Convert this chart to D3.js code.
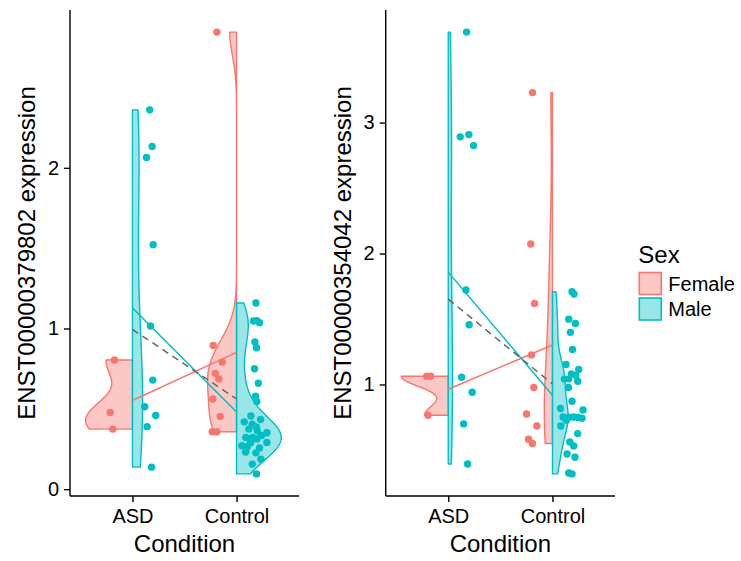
<!DOCTYPE html>
<html><head><meta charset="utf-8">
<script src="https://cdn.jsdelivr.net/npm/d3@7"></script>
<style>body{margin:0;background:#fff} text{font-family:"Liberation Sans",Arial,Helvetica,sans-serif}</style>
</head><body><svg id="chart" width="741" height="561"></svg>
<script>
// ---------------- data ----------------
const categories = ["ASD", "Control"];
const sexes = ["Female", "Male"];
const sexColors = ["#F8766D", "#00BFC4"];
const yTitles = ["ENST00000379802 expression", "ENST00000354042 expression"];
const xTitle = "Condition";
const legendTitle = "Sex";
const yTicks1 = [0, 1, 2];
const yTicks2 = [1, 2, 3];

// Panel 1 (ENST00000379802)
const p1FemaleASD = [0.804, 0.478, 0.374];
const p1FemaleASDJit = [-0.173, -0.214, -0.189];
const p1MaleASD = [2.361, 2.133, 2.064, 1.522, 1.016, 0.679, 0.513, 0.459, 0.389, 0.137];
const p1MaleASDJit = [0.166, 0.189, 0.135, 0.199, 0.173, 0.195, 0.118, 0.224, 0.141, 0.183];
const p1FemaleControl = [2.845, 0.895, 0.791, 0.721, 0.685, 0.561, 0.453, 0.357, 0.357];
const p1FemaleControlJit = [-0.189, -0.224, -0.138, -0.205, -0.170, -0.228, -0.157, -0.234, -0.189];
const p1MaleControl = [1.159, 1.047, 1.049, 1.036, 0.916, 0.880, 0.750, 0.659, 0.579, 0.546,
  0.455, 0.434, 0.419, 0.405, 0.388, 0.374, 0.363, 0.351, 0.334, 0.322, 0.322,
  0.313, 0.291, 0.289, 0.270, 0.264, 0.257, 0.231, 0.226, 0.187, 0.156, 0.095];
const p1MaleControlJit = [0.186, 0.163, 0.195, 0.221, 0.176, 0.192, 0.173, 0.209, 0.183, 0.195,
  0.138, 0.231, 0.074, 0.151, 0.189, 0.118, 0.199, 0.291, 0.240, 0.089, 0.154,
  0.195, 0.291, 0.135, 0.051, 0.103, 0.221, 0.087, 0.186, 0.234, 0.151, 0.192];

// Panel 2 (ENST00000354042)
const p2FemaleASD = [1.063, 1.063, 0.765];
const p2FemaleASDJit = [-0.207, -0.169, -0.194];
const p2MaleASD = [3.691, 2.908, 2.891, 2.824, 1.721, 1.456, 1.056, 0.941, 0.699, 0.393];
const p2MaleASDJit = [0.176, 0.198, 0.115, 0.243, 0.170, 0.201, 0.128, 0.230, 0.148, 0.186];
const p2FemaleControl = [3.229, 2.073, 1.619, 1.226, 0.977, 0.775, 0.683, 0.582, 0.549];
const p2FemaleControlJit = [-0.192, -0.208, -0.172, -0.201, -0.179, -0.249, -0.150, -0.230, -0.192];
const p2MaleControl = [1.708, 1.690, 1.499, 1.466, 1.398, 1.268, 1.153, 1.115, 1.081, 1.071,
  1.041, 1.043, 1.025, 0.977, 0.872, 0.817, 0.806, 0.752, 0.750, 0.752, 0.748,
  0.742, 0.727, 0.683, 0.625, 0.561, 0.531, 0.469, 0.444, 0.324, 0.317];
const p2MaleControlJit = [0.188, 0.207, 0.156, 0.220, 0.172, 0.192, 0.130, 0.252, 0.182, 0.223,
  0.115, 0.156, 0.242, 0.153, 0.188, 0.077, 0.293, 0.102, 0.159, 0.204, 0.245,
  0.284, 0.134, 0.080, 0.242, 0.166, 0.204, 0.140, 0.216, 0.156, 0.188];

// --------------- build -----------------
function group(cat, sex, vals, jit) { return {cat, sex, vals, jit}; }
const panels = [
  {title: yTitles[0], ticks: yTicks1, x0: 70, x1: 299, titleX: 35,
   groups: [group("ASD","Female",p1FemaleASD,p1FemaleASDJit), group("ASD","Male",p1MaleASD,p1MaleASDJit),
            group("Control","Female",p1FemaleControl,p1FemaleControlJit), group("Control","Male",p1MaleControl,p1MaleControlJit)]},
  {title: yTitles[1], ticks: yTicks2, x0: 385.7, x1: 615, titleX: 351,
   groups: [group("ASD","Female",p2FemaleASD,p2FemaleASDJit), group("ASD","Male",p2MaleASD,p2MaleASDJit),
            group("Control","Female",p2FemaleControl,p2FemaleControlJit), group("Control","Male",p2MaleControl,p2MaleControlJit)]}
];
const Y0 = 10, Y1 = 496;

function bwNrd0(v) {
  const sd = d3.deviation(v);
  const s = v.slice().sort(d3.ascending);
  const iqr = d3.quantileSorted(s, 0.75) - d3.quantileSorted(s, 0.25);
  let lo = Math.min(sd, iqr / 1.34);
  if (!(lo > 0)) lo = sd || Math.abs(s[0]) || 1;
  return 0.9 * lo * Math.pow(v.length, -0.2);
}
function kde(v) {
  const bw = bwNrd0(v), [a, b] = d3.extent(v), n = 512, out = [];
  for (let i = 0; i < n; i++) {
    const y = a + (b - a) * i / (n - 1);
    let s = 0;
    for (const x of v) { const z = (y - x) / bw; s += Math.exp(-0.5 * z * z); }
    out.push([y, s / (v.length * bw * Math.sqrt(2 * Math.PI))]);
  }
  return out;
}

const svg = d3.select("#chart");
const colorOf = d3.scaleOrdinal().domain(sexes).range(sexColors);

panels.forEach(p => {
  const g = svg.append("g");
  const x = d3.scalePoint().domain(categories).range([p.x0, p.x1]).padding(0.6);
  const step = x.step();
  const all = p.groups.flatMap(d => d.vals);
  const [mn, mx] = d3.extent(all);
  const pad = (mx - mn) * 0.05;
  const y = d3.scaleLinear().domain([mn - pad, mx + pad]).range([Y1, Y0]);

  p.groups.forEach(d => d.dens = kde(d.vals));
  const maxD = d3.max(p.groups, d => d3.max(d.dens, e => e[1]));
  const wScale = d3.scaleLinear().domain([0, maxD]).range([0, 0.45 * step]);

  // violins
  p.groups.forEach(d => {
    const cx = x(d.cat), sgn = d.sex === "Female" ? -1 : 1;
    const pts = d.dens.map(e => [cx + sgn * wScale(e[1]), y(e[0])]);
    const poly = [[cx, y(d.dens[0][0])], ...pts, [cx, y(d.dens[d.dens.length - 1][0])]];
    g.append("path").attr("d", d3.line()(poly) + "Z")
      .attr("fill", colorOf(d.sex)).attr("fill-opacity", 0.4)
      .attr("stroke", colorOf(d.sex)).attr("stroke-width", 1.4).attr("stroke-linejoin", "round");
  });
  // points
  p.groups.forEach(d => {
    g.append("g").selectAll("circle").data(d.vals).join("circle")
      .attr("cx", (v, i) => x(d.cat) + d.jit[i] * step)
      .attr("cy", v => y(v)).attr("r", 3.7)
      .attr("fill", colorOf(d.sex));
  });
  // mean lines
  sexes.forEach(s => {
    const m = categories.map(c => [x(c), y(d3.mean(p.groups.find(d => d.cat === c && d.sex === s).vals))]);
    g.append("path").attr("d", d3.line()(m)).attr("fill", "none")
      .attr("stroke", colorOf(s)).attr("stroke-width", 1.5);
  });
  const om = categories.map(c => [x(c), y(d3.mean(p.groups.filter(d => d.cat === c).flatMap(d => d.vals)))]);
  g.append("path").attr("d", d3.line()(om)).attr("fill", "none")
    .attr("stroke", "#666666").attr("stroke-width", 1.5).attr("stroke-dasharray", "7,5");

  // axes
  const ya = g.append("g").attr("transform", `translate(${p.x0},0)`)
    .call(d3.axisLeft(y).tickValues(p.ticks).tickFormat(d3.format("d")).tickSize(6).tickSizeOuter(0).tickPadding(5));
  const xa = g.append("g").attr("transform", `translate(0,${Y1})`)
    .call(d3.axisBottom(x).tickSize(6).tickSizeOuter(0).tickPadding(7));
  [ya, xa].forEach(a => {
    a.selectAll("path,line").attr("stroke", "#000").attr("stroke-width", 1.4);
    a.selectAll("text").attr("font-size", 20).attr("fill", "#000")
      .attr("font-family", '"Liberation Sans", Arial, sans-serif');
  });
  xa.select(".domain").attr("d", `M${p.x0},0H${p.x1}`);
  ya.select(".domain").attr("d", `M0,${Y1}V${Y0}`);

  g.append("text").attr("x", (p.x0 + p.x1) / 2).attr("y", 551.5).attr("text-anchor", "middle")
    .attr("font-size", 24).text(xTitle);
  g.append("text").attr("transform", `translate(${p.titleX},${(Y0 + Y1) / 2}) rotate(-90)`)
    .attr("text-anchor", "middle").attr("font-size", 24).text(p.title);
});

// legend
const lg = svg.append("g").attr("transform", "translate(638.3,0)");
lg.append("text").attr("x", 0).attr("y", 263.3).attr("font-size", 24).text(legendTitle);
sexes.forEach((s, i) => {
  const ky = 272.5 + i * 25.5;
  lg.append("rect").attr("x", 1).attr("y", ky).attr("width", 22).attr("height", 22)
    .attr("fill", colorOf(s)).attr("fill-opacity", 0.4).attr("stroke", colorOf(s)).attr("stroke-width", 1.6);
  lg.append("text").attr("x", 30).attr("y", ky + 11 + 7.3).attr("font-size", 20).text(s);
});
</script></body></html>
